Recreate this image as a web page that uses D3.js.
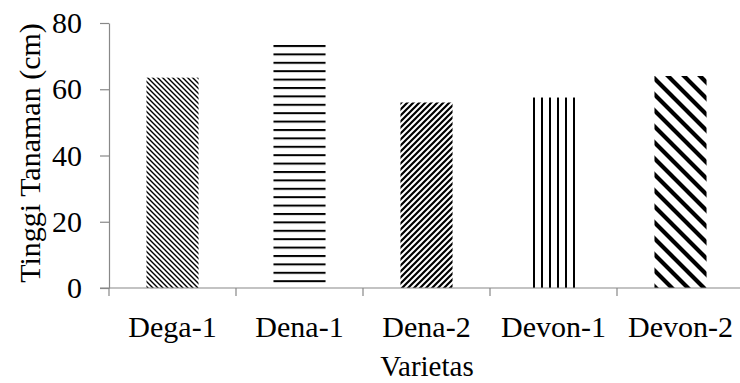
<!DOCTYPE html>
<html>
<head>
<meta charset="utf-8">
<script src="https://cdn.jsdelivr.net/npm/d3@7"></script>
<style>
  body { margin: 0; background: #fff; }
  svg text { font-family: "Liberation Serif", "Times New Roman", serif; fill: #000; }
</style>
</head>
<body>
<div id="container"></div>
<script>
/* CONSTANTS AND GLOBALS */
const width = 740;
const height = 383;

// data
const varieties = ["Dega-1", "Dena-1", "Dena-2", "Devon-1", "Devon-2"];
const heights = [63.5, 73.5, 56, 57.5, 64];
const yTicks = [0, 20, 40, 60, 80];
const patternIds = ["p-dega1", "p-dena1", "p-dena2", "p-devon1", "p-devon2"];

const svg = d3.select("#container")
  .append("svg")
  .attr("width", width)
  .attr("height", height);

// PATTERNS
const defs = svg.append("defs");

// Dega-1 : thin dense downward diagonal
let p = defs.append("pattern").attr("id", "p-dega1")
  .attr("patternUnits", "userSpaceOnUse").attr("width", 5).attr("height", 5);
p.append("rect").attr("width", 5).attr("height", 5).attr("fill", "#fff");
p.append("path").attr("d", "M-1,-1 L6,6 M-1,4 L1,6 M4,-1 L6,1")
  .attr("stroke", "#000").attr("stroke-width", 1.4);

// Dena-1 : horizontal lines
p = defs.append("pattern").attr("id", "p-dena1")
  .attr("patternUnits", "userSpaceOnUse").attr("width", 8).attr("height", 8.4)
  .attr("y", 45);
p.append("rect").attr("width", 8).attr("height", 8.4).attr("fill", "#fff");
p.append("rect").attr("y", 0).attr("width", 8).attr("height", 2).attr("fill", "#000");

// Dena-2 : dense upward diagonal, thicker
p = defs.append("pattern").attr("id", "p-dena2")
  .attr("patternUnits", "userSpaceOnUse").attr("width", 6).attr("height", 6);
p.append("rect").attr("width", 6).attr("height", 6).attr("fill", "#fff");
p.append("path").attr("d", "M-1,7 L7,-1 M-1,1 L1,-1 M5,7 L7,5")
  .attr("stroke", "#000").attr("stroke-width", 2.2);

// Devon-1 : vertical lines
p = defs.append("pattern").attr("id", "p-devon1")
  .attr("patternUnits", "userSpaceOnUse").attr("width", 8).attr("height", 8)
  .attr("x", 533);
p.append("rect").attr("width", 8).attr("height", 8).attr("fill", "#fff");
p.append("rect").attr("x", 0).attr("width", 2).attr("height", 8).attr("fill", "#000");

// Devon-2 : wide downward diagonal
p = defs.append("pattern").attr("id", "p-devon2")
  .attr("patternUnits", "userSpaceOnUse").attr("width", 16).attr("height", 16);
p.append("rect").attr("width", 16).attr("height", 16).attr("fill", "#fff");
p.append("path").attr("d", "M-2,-2 L18,18 M-2,14 L2,18 M14,-2 L18,2")
  .attr("stroke", "#000").attr("stroke-width", 4.2);

// SCALES
const x = d3.scaleBand()
  .domain(varieties)
  .range([109, 744])
  .paddingInner(0.59)
  .paddingOuter(0.295);

const y = d3.scaleLinear()
  .domain([0, 80])
  .range([288, 23]);

// BARS
svg.append("g")
  .selectAll("rect")
  .data(varieties)
  .join("rect")
  .attr("x", d => x(d))
  .attr("y", (d, i) => y(heights[i]))
  .attr("width", x.bandwidth())
  .attr("height", (d, i) => y(0) - y(heights[i]))
  .attr("fill", (d, i) => "url(#" + patternIds[i] + ")");

// AXES
const yAxis = svg.append("g")
  .attr("transform", "translate(109,0)")
  .call(d3.axisLeft(y).tickValues(yTicks).tickSize(9).tickPadding(18).tickSizeOuter(0));
yAxis.select(".domain").attr("stroke", "#888").attr("stroke-width", 1.2);
yAxis.selectAll(".tick line").attr("stroke", "#888").attr("stroke-width", 1.2);
yAxis.selectAll(".tick text").attr("font-size", 30)
  .attr("font-family", "Liberation Serif").attr("fill", "#000");

const xAxis = svg.append("g")
  .attr("transform", "translate(0,288)");
xAxis.append("line")
  .attr("x1", 100).attr("x2", 744)
  .attr("stroke", "#888").attr("stroke-width", 1.2);
const step = x.step();
xAxis.selectAll(".sep")
  .data(varieties)
  .join("line")
  .attr("class", "sep")
  .attr("x1", d => x(d) - (step - x.bandwidth()) / 2)
  .attr("x2", d => x(d) - (step - x.bandwidth()) / 2)
  .attr("y1", 0).attr("y2", 8)
  .attr("stroke", "#888").attr("stroke-width", 1.2);
xAxis.selectAll(".lbl")
  .data(varieties)
  .join("text")
  .attr("class", "lbl")
  .attr("x", d => x(d) + x.bandwidth() / 2)
  .attr("y", 49)
  .attr("text-anchor", "middle")
  .attr("font-size", 30)
  .text(d => d);

// LABELS
svg.append("text")
  .attr("x", 427)
  .attr("y", 376)
  .attr("text-anchor", "middle")
  .attr("font-size", 29)
  .text("Varietas");

svg.append("text")
  .attr("transform", "translate(40,153) rotate(-90)")
  .attr("text-anchor", "middle")
  .attr("font-size", 30)
  .text("Tinggi Tanaman (cm)");
</script>
</body>
</html>
